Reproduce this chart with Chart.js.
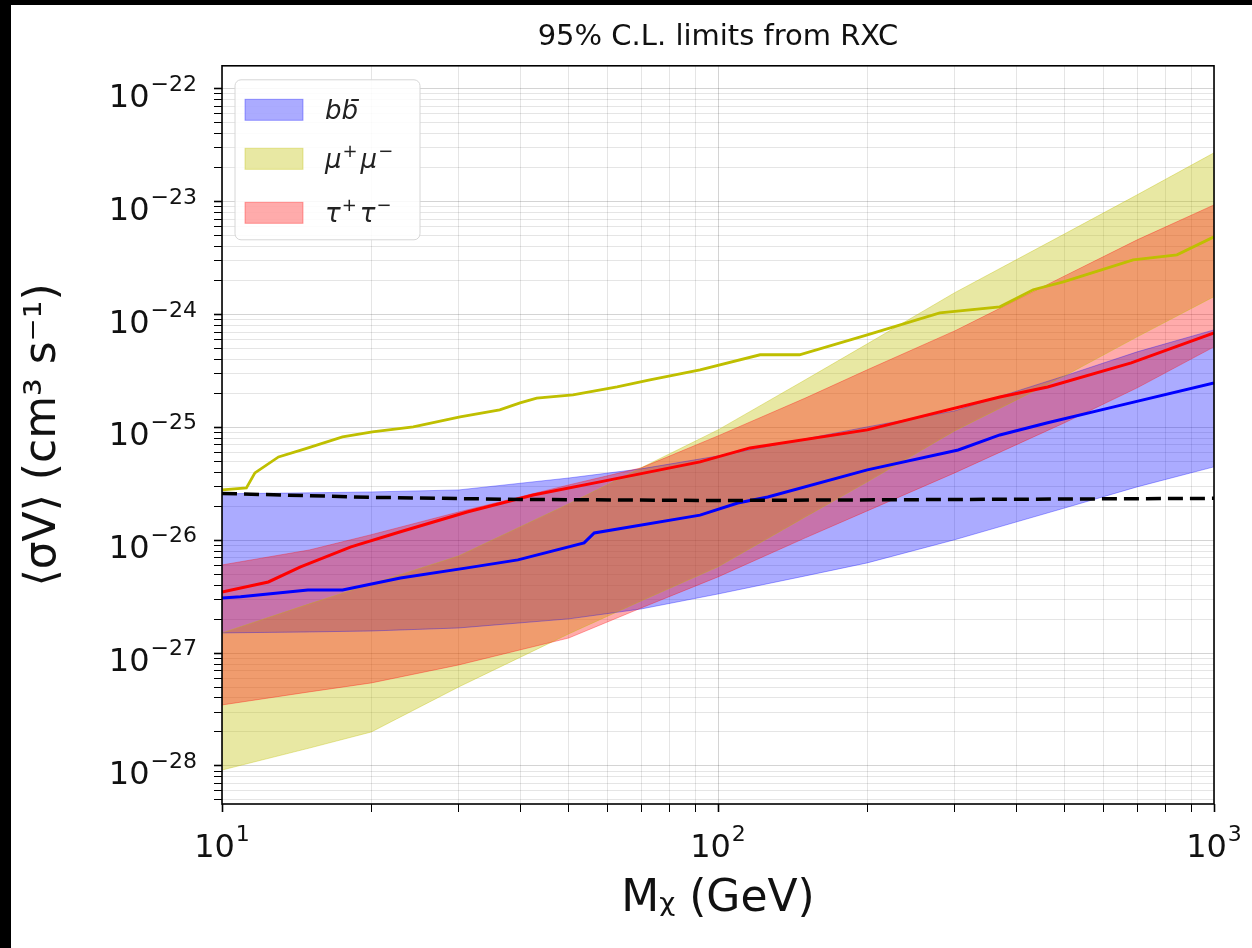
<!DOCTYPE html>
<html>
<head>
<meta charset="utf-8">
<script src="https://cdn.jsdelivr.net/npm/chart.js@4.4.0/dist/chart.umd.min.js"></script>
<style>
  html, body { margin: 0; padding: 0; background: #000; }
  #wrap { position: absolute; left: 11px; top: 5px; width: 1241px; height: 943px; background: #fff; }
</style>
</head>
<body>
<div id="wrap"><canvas id="rxc-limits"></canvas></div>
<script>
// masses (GeV) where the uncertainty bands were read
const bandMass = [10, 15, 20, 30, 50, 70, 100, 150, 200, 300, 500, 700, 1000];

const bbUpper = [2.58e-26, 2.63e-26, 2.68e-26, 2.79e-26, 3.56e-26, 4.29e-26, 5.58e-26, 7.91e-26, 1.01e-25, 1.40e-25, 2.86e-25, 4.67e-25, 7.31e-25];
const bbLower = [1.51e-27, 1.54e-27, 1.57e-27, 1.67e-27, 2.01e-27, 2.46e-27, 3.34e-27, 4.83e-27, 6.30e-27, 1.01e-26, 1.93e-26, 2.97e-26, 4.47e-26];
const mumuUpper = [1.51e-27, 2.73e-27, 4.10e-27, 7.26e-27, 2.10e-26, 4.38e-26, 9.5e-26, 2.64e-25, 5.50e-25, 1.56e-24, 5.19e-24, 1.15e-23, 2.71e-23];
const mumuLower = [9.2e-29, 1.44e-28, 2.0e-28, 5.01e-28, 1.48e-27, 2.90e-27, 5.81e-27, 1.61e-26, 3.29e-26, 9.31e-26, 2.86e-25, 6.34e-25, 1.44e-24];
const tautauUpper = [6.04e-27, 8.2e-27, 1.12e-26, 1.78e-26, 3.09e-26, 4.38e-26, 8.41e-26, 1.82e-25, 3.24e-25, 7.16e-25, 2.20e-24, 4.59e-24, 9.37e-24];
const tautauLower = [3.47e-28, 4.53e-28, 5.44e-28, 7.85e-28, 1.36e-27, 2.51e-27, 4.73e-27, 1.05e-26, 1.82e-26, 3.95e-26, 1.10e-25, 2.24e-25, 5.17e-25];

// central limit curves
const mumuMass = [10, 11.2, 11.65, 13.0, 14.7, 17.5, 20.1, 24.3, 30.2, 36.3, 39.9, 43.1, 51, 62.6, 72.9, 92, 121.6, 146, 200, 280, 370, 432, 497, 687, 842, 1000];
const mumuLimit = [2.79e-26, 2.91e-26, 3.95e-26, 5.47e-26, 6.44e-26, 8.24e-26, 9.12e-26, 1.01e-25, 1.24e-25, 1.43e-25, 1.65e-25, 1.82e-25, 1.94e-25, 2.29e-25, 2.64e-25, 3.24e-25, 4.40e-25, 4.40e-25, 6.61e-25, 1.035e-24, 1.17e-24, 1.66e-24, 1.95e-24, 3.05e-24, 3.38e-24, 4.88e-24];

const tautauMass = [10, 12.4, 14.4, 18.2, 22.9, 31.2, 42.4, 57.8, 92, 116, 200, 370, 462, 681, 1000];
const tautauLimit = [3.48e-27, 4.27e-27, 5.81e-27, 8.73e-27, 1.19e-26, 1.78e-26, 2.52e-26, 3.29e-26, 4.95e-26, 6.58e-26, 9.5e-26, 1.86e-25, 2.28e-25, 3.73e-25, 6.87e-25];

const bbMass = [10, 10.9, 14.9, 17.5, 22.9, 31.2, 39.5, 53.7, 56.3, 92, 109.6, 126, 200, 305, 370, 462, 628, 1000];
const bbLimit = [3.08e-27, 3.15e-27, 3.63e-27, 3.63e-27, 4.63e-27, 5.69e-27, 6.7e-27, 9.47e-27, 1.16e-26, 1.67e-26, 2.14e-26, 2.42e-26, 4.2e-26, 6.3e-26, 8.57e-26, 1.1e-25, 1.52e-25, 2.48e-25];

// thermal relic cross section (dashed)
const relicMass = [10, 20, 40, 100, 1000];
const relicSigma = [2.6e-26, 2.4e-26, 2.3e-26, 2.25e-26, 2.35e-26];

const legendLabels = ['b b\u0304', '\u03BC\u207A\u03BC\u207B', '\u03C4\u207A\u03C4\u207B'];
const xTickExp = [1, 2, 3];
const yTickExp = [-22, -23, -24, -25, -26, -27, -28];
const xRange = [10, 1000];
const yRange = [4.6e-29, 1.6e-22];

const FONT = '"DejaVu Sans", sans-serif';

const pts = (xs, ys) => xs.map((x, i) => ({x: x, y: ys[i]}));

function logTicks(lo, hi) {
    const out = [];
    for (let e = Math.floor(Math.log10(lo)); e <= Math.ceil(Math.log10(hi)); e++) {
        for (let m = 1; m < 10; m++) {
            const v = m * Math.pow(10, e);
            if (v >= lo * 0.9999 && v <= hi * 1.0001) out.push({value: v, major: m === 1});
        }
    }
    return out;
}
const isMajor = c => c && c.tick && c.tick.major;

const bandBlue = 'rgba(0, 0, 255, 0.33)';
const bandYellow = 'rgba(191, 191, 0, 0.36)';
const bandRed = 'rgba(255, 0, 0, 0.33)';

function band(label, upper, lower, color, order) {
    return [
        {label: label, data: pts(bandMass, upper), backgroundColor: color, borderColor: color, borderWidth: 1, fill: '+1', order: order, legendPatch: true},
        {label: '', data: pts(bandMass, lower), backgroundColor: color, borderColor: color, borderWidth: 1, fill: false, order: order}
    ];
}

// write "10" with a raised exponent, mathtext style
function drawPower(ctx, e, x, base, align) {
    const exp = String(e).replace('-', '\u2212');
    ctx.font = '32px ' + FONT;
    const w1 = ctx.measureText('10').width;
    ctx.font = '22px ' + FONT;
    const w2 = ctx.measureText(exp).width;
    const total = w1 + 1 + w2;
    const left = align === 'right' ? x - total : x - total / 2;
    ctx.font = '32px ' + FONT;
    ctx.fillText('10', left, base);
    ctx.font = '22px ' + FONT;
    ctx.fillText(exp, left + w1 + 1, base - 16);
}

// legend text: superscript signs drawn smaller and raised
function drawMathLabel(ctx, text, x, base) {
    const sup = {'\u207A': '+', '\u207B': '\u2212'};
    let cx = x;
    for (const ch of text.replace(' ', '')) {
        if (sup[ch]) {
            ctx.font = '18px ' + FONT;
            ctx.fillText(sup[ch], cx + 1, base - 11);
            cx += ctx.measureText(sup[ch]).width + 4;
        } else {
            ctx.font = 'italic 26px ' + FONT;
            ctx.fillText(ch, cx, base);
            cx += ctx.measureText(ch).width;
        }
    }
}

const frame = {
    id: 'frame',
    afterDatasetsDraw(chart) {
        const {ctx, chartArea: a} = chart;
        ctx.save();
        ctx.strokeStyle = '#000';
        ctx.lineWidth = 1.6;
        ctx.strokeRect(a.left, a.top, a.right - a.left, a.bottom - a.top);
        ctx.restore();
    }
};

const powerLabels = {
    id: 'powerLabels',
    afterDraw(chart) {
        const {ctx} = chart;
        const xs = chart.scales.x, ys = chart.scales.y;
        ctx.save();
        ctx.fillStyle = '#111';
        ctx.textBaseline = 'alphabetic';
        ctx.textAlign = 'left';
        xTickExp.forEach(e => drawPower(ctx, e, xs.getPixelForValue(Math.pow(10, e)), xs.top + 53, 'center'));
        yTickExp.forEach(e => drawPower(ctx, e, ys.right - 25, ys.getPixelForValue(Math.pow(10, e)) + 18, 'right'));
        ctx.restore();
    }
};

// legend box in the upper left corner of the plot
const bandLegend = {
    id: 'bandLegend',
    afterDraw(chart) {
        const {ctx, chartArea: a} = chart;
        const x0 = a.left + 13, y0 = a.top + 14;
        const rows = [30, 79, 133];
        ctx.save();
        ctx.beginPath();
        ctx.roundRect(x0, y0, 185, 160, 6);
        ctx.fillStyle = 'rgba(255,255,255,0.85)';
        ctx.fill();
        ctx.strokeStyle = '#d6d6d6';
        ctx.lineWidth = 1;
        ctx.stroke();
        const items = chart.data.datasets.filter(d => d.legendPatch);
        items.forEach((d, i) => {
            const cy = y0 + rows[i];
            ctx.fillStyle = d.backgroundColor;
            ctx.fillRect(x0 + 10, cy - 10.5, 58, 21);
            ctx.strokeStyle = d.borderColor;
            ctx.strokeRect(x0 + 10, cy - 10.5, 58, 21);
            ctx.fillStyle = '#222';
            ctx.textBaseline = 'alphabetic';
            drawMathLabel(ctx, d.label, x0 + 90, cy + 9);
        });
        ctx.restore();
    }
};

const datasets = [].concat(
    band(legendLabels[0], bbUpper, bbLower, bandBlue, 30),
    band(legendLabels[1], mumuUpper, mumuLower, bandYellow, 20),
    band(legendLabels[2], tautauUpper, tautauLower, bandRed, 10),
    [
        {label: 'bb line', data: pts(bbMass, bbLimit), borderColor: '#0000ff', borderWidth: 3, fill: false, order: 3},
        {label: 'tautau line', data: pts(tautauMass, tautauLimit), borderColor: '#ff0000', borderWidth: 3, fill: false, order: 2},
        {label: 'mumu line', data: pts(mumuMass, mumuLimit), borderColor: '#bfbf00', borderWidth: 2.8, fill: false, order: 4},
        {label: 'relic', data: pts(relicMass, relicSigma), borderColor: '#000', borderWidth: 3.5, borderDash: [15, 7], fill: false, order: 1}
    ]
);

new Chart(document.getElementById('rxc-limits').getContext('2d'), {
    type: 'line',
    data: {datasets: datasets},
    options: {
        responsive: true,
        maintainAspectRatio: false,
        animation: false,
        layout: {padding: {left: 0, right: 38, top: 0, bottom: 0}},
        elements: {point: {radius: 0}, line: {tension: 0}},
        plugins: {
            legend: {display: false},
            tooltip: {enabled: false},
            filler: {drawTime: 'beforeDatasetsDraw'},
            title: {
                display: true,
                fullSize: false,
                text: '95% C.L. limits from RXC',
                color: '#111',
                font: {family: FONT, size: 29, weight: 'normal'},
                padding: {top: 15, bottom: 11}
            }
        },
        scales: {
            x: {
                type: 'logarithmic',
                min: xRange[0],
                max: xRange[1],
                afterBuildTicks: s => { s.ticks = logTicks(xRange[0], xRange[1]); },
                afterFit: s => { s.height = 144; s.paddingLeft = 0; s.paddingRight = 0; },
                border: {display: false},
                grid: {
                    color: c => isMajor(c) ? 'rgba(0,0,0,0.17)' : 'rgba(0,0,0,0.1)',
                    tickColor: '#000',
                    tickLength: 8,
                    tickWidth: c => isMajor(c) ? 1.6 : 1
                },
                ticks: {display: false, autoSkip: false},
                title: {
                    display: true,
                    text: 'M\u1D6A (GeV)',
                    color: '#111',
                    font: {family: FONT, size: 44},
                    padding: {top: 0, bottom: 22}
                }
            },
            y: {
                type: 'logarithmic',
                min: yRange[0],
                max: yRange[1],
                afterBuildTicks: s => { s.ticks = logTicks(yRange[0], yRange[1]); },
                afterFit: s => { s.width = 211; s.paddingTop = 0; s.paddingBottom = 0; },
                border: {display: false},
                grid: {
                    color: c => isMajor(c) ? 'rgba(0,0,0,0.17)' : 'rgba(0,0,0,0.1)',
                    tickColor: '#000',
                    tickLength: 8,
                    tickWidth: c => isMajor(c) ? 1.6 : 1
                },
                ticks: {display: false, autoSkip: false},
                title: {
                    display: true,
                    text: '\u27E8\u03C3V\u27E9 (cm\u00B3 s\u207B\u00B9)',
                    color: '#111',
                    font: {family: FONT, size: 44},
                    padding: {top: 6, bottom: 0}
                }
            }
        }
    },
    plugins: [frame, powerLabels, bandLegend]
});
</script>
</body>
</html>
